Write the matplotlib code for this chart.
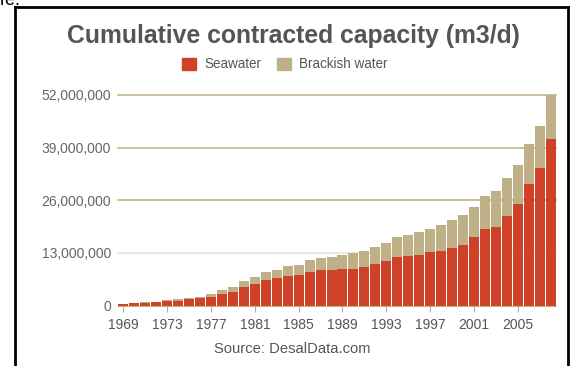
import matplotlib
matplotlib.use("Agg")
import matplotlib.pyplot as plt
from matplotlib.patches import Patch
from matplotlib.lines import Line2D
from matplotlib.ticker import FuncFormatter

# Cumulative contracted desalination capacity, m3/d
years = list(range(1969, 2009))
seawater = [
    400_000, 550_000, 700_000, 800_000, 1_100_000, 1_200_000, 1_500_000, 1_750_000,
    2_000_000, 2_850_000, 3_300_000, 4_500_000, 5_350_000, 6_250_000, 6_700_000,
    7_300_000, 7_450_000, 8_200_000, 8_800_000, 8_850_000, 9_000_000, 9_100_000,
    9_500_000, 10_350_000, 10_900_000, 11_900_000, 12_300_000, 12_500_000,
    13_100_000, 13_500_000, 14_200_000, 15_000_000, 16_800_000, 18_900_000,
    19_400_000, 22_100_000, 25_100_000, 29_900_000, 33_900_000, 41_200_000,
]
brackish = [
    50_000, 50_000, 50_000, 50_000, 200_000, 300_000, 350_000, 350_000,
    800_000, 950_000, 1_200_000, 1_500_000, 1_800_000, 1_950_000, 2_150_000,
    2_350_000, 2_600_000, 3_050_000, 3_000_000, 3_200_000, 3_400_000, 3_850_000,
    3_950_000, 4_150_000, 4_600_000, 4_950_000, 5_100_000, 5_600_000,
    5_900_000, 6_400_000, 6_800_000, 7_350_000, 7_600_000, 8_200_000,
    8_800_000, 9_400_000, 9_700_000, 9_950_000, 10_550_000, 10_800_000,
]
y_ticks = [0, 13_000_000, 26_000_000, 39_000_000, 52_000_000]
x_tick_years = [1969, 1973, 1977, 1981, 1985, 1989, 1993, 1997, 2001, 2005]

RED = "#cf4228"
TAN = "#bfb088"
GRID = "#c9bc92"
GRID_LIGHT = "#ebe6d6"
TEXT = "#555555"

W, H = 570, 366
plt.rcParams["font.family"] = ["Liberation Sans", "DejaVu Sans"]
fig = plt.figure(figsize=(W / 100, H / 100), dpi=100)

ax = fig.add_axes([118 / W, 1 - 305.5 / H, (556 - 118) / W, (305.5 - 95) / H])
ax.bar(years, seawater, width=0.91, color=RED, zorder=3, label="Seawater")
ax.bar(years, brackish, bottom=seawater, width=0.91, color=TAN, zorder=3,
       label="Brackish water")
ax.set_xlim(1968.5, 2008.5)
ax.set_ylim(0, 52_000_000)

for v in y_ticks[1:]:
    ax.axhline(v, color=GRID_LIGHT if v == 13_000_000 else GRID, lw=1.3,
               zorder=1, clip_on=False)
ax.axhline(0, color=TAN, lw=0.8, zorder=4, clip_on=False)

for s in ax.spines.values():
    s.set_visible(False)

ax.set_yticks(y_ticks)
ax.yaxis.set_major_formatter(FuncFormatter(lambda v, p: f"{int(v):,}"))
ax.tick_params(axis="y", length=0, pad=5, labelsize=10, labelcolor="#666666")
ax.set_xticks(x_tick_years)
ax.tick_params(axis="x", length=4, width=0.8, color=TAN, pad=5, labelsize=10,
               labelcolor=TEXT)

fig.text(293 / W, 1 - 43.3 / H, "Cumulative contracted capacity (m3/d)",
         ha="center", va="baseline", fontsize=17.8, fontweight="bold", color=TEXT)

handles = [Patch(color=RED, label="Seawater"), Patch(color=TAN, label="Brackish water")]
fig.legend(handles=handles, loc="center", bbox_to_anchor=(285 / W, 1 - 64.5 / H),
           ncol=2, frameon=False, fontsize=9.75, handlelength=1.03, handleheight=1.03,
           handletextpad=0.62, columnspacing=1.1, labelcolor=TEXT,
           borderpad=0, borderaxespad=0)

fig.text(292 / W, 1 - 349 / H, "Source: DesalData.com", ha="center", va="center",
         fontsize=10.6, color=TEXT)

# surrounding page: text fragment and box border
fig.text(0, 1 - 5 / H, "re.", fontsize=13, va="baseline", ha="left", color="black")
lw = 2.0
fig.add_artist(Line2D([15 / W, 15 / W], [0, 1 - 7 / H], transform=fig.transFigure,
                      color="black", lw=lw, solid_capstyle="projecting"))
fig.add_artist(Line2D([15 / W, 568 / W], [1 - 7 / H, 1 - 7 / H],
                      transform=fig.transFigure, color="black", lw=lw,
                      solid_capstyle="projecting"))
fig.add_artist(Line2D([568 / W, 568 / W], [0, 1 - 7 / H], transform=fig.transFigure,
                      color="black", lw=lw, solid_capstyle="projecting"))

fig.savefig("out.png", dpi=100)
